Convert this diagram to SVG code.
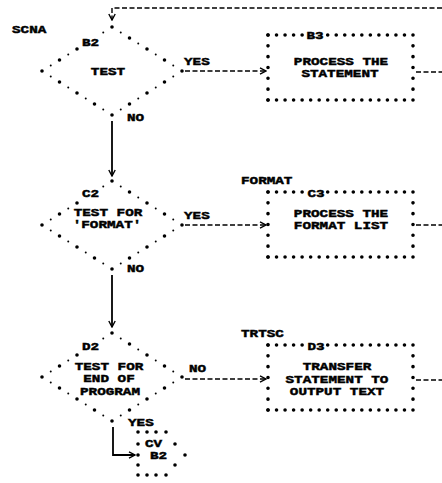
<svg xmlns="http://www.w3.org/2000/svg" width="442" height="483" viewBox="0 0 442 483">
<defs>
<marker id="arr" viewBox="0 0 8 8" refX="7" refY="4" markerWidth="8" markerHeight="8" markerUnits="userSpaceOnUse" orient="auto">
<path d="M1,0.8 L7,4 L1,7.2" fill="none" stroke="#000" stroke-width="1.4"/>
</marker>
<style>
text{font-family:"Liberation Mono","Courier New",monospace;font-weight:bold;font-size:11px;fill:#000;stroke:#000;stroke-width:0.45}
.m{text-anchor:middle}
.big{fill:none;stroke:#000;stroke-width:3.6;stroke-linecap:round;stroke-dasharray:0 20.67}
.sm{fill:none;stroke:#000;stroke-width:2;stroke-linecap:round;stroke-dasharray:0 20.67;stroke-dashoffset:-10.335}
.hd{fill:none;stroke:#000;stroke-width:3.6;stroke-linecap:round;stroke-dasharray:0 8.53}
.vd{fill:none;stroke:#000;stroke-width:3.6;stroke-linecap:round;stroke-dasharray:0 10.83}
.dash{fill:none;stroke:#000;stroke-width:1.4;stroke-dasharray:5 2.5}
.sol{fill:none;stroke:#000;stroke-width:1.8}
.dot{fill:#000}
</style>
</defs>
<rect width="442" height="483" fill="#fff"/>

<g id="connectors">
<path class="dash" d="M442,8 H112 V20" marker-end="url(#arr)"/>
<path class="dash" d="M185,71 H266" marker-end="url(#arr)"/>
<path class="dash" d="M416,72 H442"/>
<path class="sol" d="M112,121 V176" marker-end="url(#arr)"/>
<path class="dash" d="M185,225 H266" marker-end="url(#arr)"/>
<path class="dash" d="M416,225 H442"/>
<path class="sol" d="M112,275 V327" marker-end="url(#arr)"/>
<path class="dash" d="M185,379 H266" marker-end="url(#arr)"/>
<path class="dash" d="M416,380 H442"/>
<path class="sol" d="M113,427 V455 H135" marker-end="url(#arr)"/>
<g transform="scale(1.3 1)">
<text x="141.54" y="64.6">YES</text>
<text x="97.69" y="120.6">NO</text>
<text x="141.54" y="218.6">YES</text>
<text x="97.69" y="272">NO</text>
<text x="145.38" y="371.6">NO</text>
<text x="98.46" y="425.6">YES</text>
</g>
</g>

<g id="B2">
<path class="big" d="M112,27 L182,71 L112,115 L42,71 L77,49"/>
<path class="sm" d="M112,27 L182,71 L112,115 L42,71 L77,49"/>
<circle class="dot" cx="103.25" cy="32.5" r="1"/>
<g transform="scale(1.3 1)">
<text x="9.23" y="32.6">SCNA</text>
<text x="63.08" y="45.6">B2</text>
<text class="m" x="83.08" y="74.6">TEST</text>
</g>
</g>

<g id="B3">
<path class="hd" d="M268,35 H302.2 M327.7,35 H413"/>
<path class="vd" d="M413,35 V100 M268,35 V100"/>
<path class="hd" d="M268,100 H413"/>
<g transform="scale(1.3 1)">
<text class="m" x="242.31" y="38.8">B3</text>
<text class="m" x="262.31" y="65">PROCESS THE</text>
<text class="m" x="261.54" y="77.5">STATEMENT</text>
</g>
</g>

<g id="C2">
<path class="big" d="M112,181 L182,225 L112,269 L42,225 L77,203"/>
<path class="sm" d="M112,181 L182,225 L112,269 L42,225 L77,203"/>
<circle class="dot" cx="103.25" cy="186.5" r="1"/>
<g transform="scale(1.3 1)">
<text x="63.08" y="196.6">C2</text>
<text class="m" x="83.08" y="216">TEST FOR</text>
<text class="m" x="82.31" y="228.5">'FORMAT'</text>
</g>
</g>

<g id="C3">
<path class="hd" d="M268,192 H302.2 M327.7,192 H413"/>
<path class="vd" d="M413,192 V257 M268,192 V257"/>
<path class="hd" d="M268,257 H413"/>
<g transform="scale(1.3 1)">
<text x="185.38" y="184.3">FORMAT</text>
<text class="m" x="243.08" y="197">C3</text>
<text class="m" x="262.31" y="217">PROCESS THE</text>
<text class="m" x="262.31" y="229.5">FORMAT LIST</text>
</g>
</g>

<g id="D2">
<path class="big" d="M112,333 L182,377 L112,421 L42,377 L77,355"/>
<path class="sm" d="M112,333 L182,377 L112,421 L42,377 L77,355"/>
<circle class="dot" cx="103.25" cy="338.5" r="1"/>
<g transform="scale(1.3 1)">
<text x="63.08" y="349.6">D2</text>
<text class="m" x="83.85" y="370">TEST FOR</text>
<text class="m" x="83.85" y="382.5">END OF</text>
<text class="m" x="84.62" y="395">PROGRAM</text>
</g>
</g>

<g id="D3">
<path class="hd" d="M268,345 H302.2 M327.7,345 H413"/>
<path class="vd" d="M413,345 V410 M268,345 V410"/>
<path class="hd" d="M268,410 H413"/>
<g transform="scale(1.3 1)">
<text x="185.38" y="337.3">TRTSC</text>
<text class="m" x="243.08" y="350">D3</text>
<text class="m" x="259.23" y="370.5">TRANSFER</text>
<text class="m" x="259.23" y="383">STATEMENT TO</text>
<text class="m" x="259.23" y="395.5">OUTPUT TEXT</text>
</g>
</g>

<g id="CV">
<g class="dot">
<circle cx="138" cy="432" r="1.8"/><circle cx="147" cy="432" r="1.8"/><circle cx="156" cy="432" r="1.8"/><circle cx="166" cy="432" r="1.8"/>
<circle cx="175" cy="444" r="1.8"/><circle cx="185" cy="455" r="1.8"/><circle cx="175" cy="465" r="1.8"/>
<circle cx="138" cy="475" r="1.8"/><circle cx="147" cy="475" r="1.8"/><circle cx="156" cy="475" r="1.8"/><circle cx="166" cy="475" r="1.8"/>
<circle cx="138" cy="444" r="1.8"/><circle cx="138" cy="455" r="1.8"/><circle cx="138" cy="465" r="1.8"/>
</g>
<g transform="scale(1.3 1)">
<text x="111.54" y="447">CV</text>
<text x="115.38" y="459.5">B2</text>
</g>
</g>
</svg>
